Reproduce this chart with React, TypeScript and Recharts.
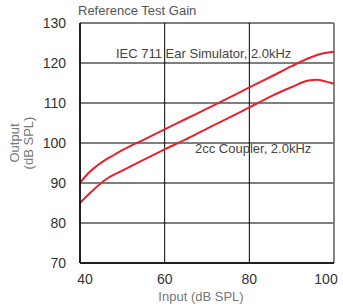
import { LineChart, Line, XAxis, YAxis, CartesianGrid, ReferenceLine } from "recharts";

const xTicks = [40, 60, 80, 100];
const yTicks = [70, 80, 90, 100, 110, 120, 130];

const earInput = [40, 42, 44, 46, 48, 50, 55, 60, 65, 70, 75, 80, 85, 90, 94, 97, 100];
const earOutput = [90, 92.5, 94.3, 95.8, 97, 98.2, 100.8, 103.4, 106, 108.6, 111.2, 113.9, 116.5, 119.2, 121.2, 122.3, 122.8];

const couplerInput = [40, 43, 46, 50, 55, 60, 65, 70, 75, 80, 85, 90, 94, 96, 98, 100];
const couplerOutput = [85, 88.1, 90.8, 93.1, 95.8, 98.4, 100.9, 103.6, 106.2, 108.9, 111.6, 114, 115.6, 115.8, 115.4, 114.8];

const earData = earInput.map((x, i) => ({ x, y: earOutput[i] }));
const couplerData = couplerInput.map((x, i) => ({ x, y: couplerOutput[i] }));

const font = "'Liberation Sans', Arial, sans-serif";

// first and last x labels are nudged inward like the original
function XTick(props: any) {
  const { x, y, payload } = props;
  let dx = 0;
  if (payload.value === 40) dx = 5;
  if (payload.value === 100) dx = -5;
  return (
    <text x={x + dx} y={y} dy={13} textAnchor="middle" fill="#333" fontSize={14} fontFamily={font}>
      {payload.value}
    </text>
  );
}

export default function App() {
  return (
    <div style={{ position: "absolute", left: 0, top: 0, width: 343, height: 306, fontFamily: font, background: "#fff" }}>
      <LineChart
        width={343}
        height={306}
        margin={{ top: 23, right: 9, left: 0, bottom: 0 }}
      >
        <CartesianGrid stroke="#000" strokeWidth={1} />
        <XAxis
          dataKey="x"
          type="number"
          domain={[40, 100]}
          ticks={xTicks}
          height={43}
          tickLine={false}
          axisLine={{ stroke: "#000", strokeWidth: 1.5 }}
          tickMargin={2}
          tick={<XTick />}
          allowDuplicatedCategory={false}
        />
        <YAxis
          type="number"
          domain={[70, 130]}
          ticks={yTicks}
          width={80}
          tickLine={false}
          axisLine={{ stroke: "#000", strokeWidth: 1.5 }}
          tickMargin={8}
          tick={{ fill: "#333", fontSize: 14, fontFamily: font }}
        />
        <ReferenceLine x={100} stroke="#888" strokeWidth={1.5} />
        <Line data={earData} dataKey="y" stroke="#e8202a" strokeWidth={2} dot={false} type="monotone" isAnimationActive={false} />
        <Line data={couplerData} dataKey="y" stroke="#e8202a" strokeWidth={2} dot={false} type="monotone" isAnimationActive={false} />
      </LineChart>
      <div style={{ position: "absolute", left: 78, top: 3, fontSize: 13, color: "#555", whiteSpace: "nowrap" }}>Reference Test Gain</div>
      <div style={{ position: "absolute", left: 116, top: 46, fontSize: 13, color: "#444", whiteSpace: "nowrap" }}>IEC 711 Ear Simulator, 2.0kHz</div>
      <div style={{ position: "absolute", left: 195, top: 141, fontSize: 13, color: "#444", whiteSpace: "nowrap" }}>2cc Coupler, 2.0kHz</div>
      <div
        style={{
          position: "absolute",
          left: 24 - 40,
          top: 143 - 16,
          width: 80,
          height: 32,
          transform: "rotate(-90deg)",
          fontSize: 13,
          lineHeight: "14px",
          color: "#777",
          textAlign: "center",
        }}
      >
        Output
        <br />
        (dB SPL)
      </div>
      <div style={{ position: "absolute", left: 0, width: 402, top: 289, fontSize: 13, color: "#777", textAlign: "center" }}>Input (dB SPL)</div>
    </div>
  );
}
